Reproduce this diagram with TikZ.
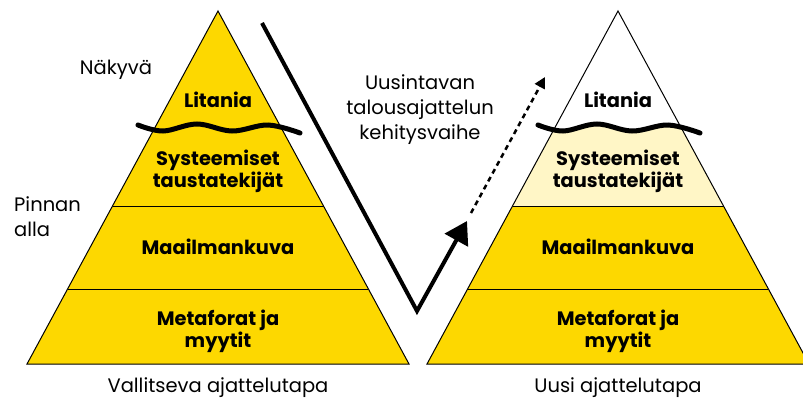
\documentclass[tikz,border=0pt]{standalone}
\usepackage{fontspec}
\setmainfont{Poppins}
\usetikzlibrary{arrows.meta}
\definecolor{gold}{HTML}{FDD800}
\definecolor{paleyellow}{HTML}{FFF6C6}
\begin{document}
\begin{tikzpicture}[x=1pt,y=-1pt,
  layer/.style={font=\bfseries\fontsize{19.4}{22}\selectfont, align=center, inner sep=0pt},
  plain/.style={font=\fontsize{19.5}{25}\selectfont, align=center, inner sep=0pt},
  wave/.style={line width=5pt, line cap=round},
  edge/.style={line width=1pt, line join=miter},
  bigarrow/.style={line width=4pt, -{Triangle[length=22pt,width=26pt]}},
  dotarrow/.style={line width=2.5pt, dash pattern=on 5pt off 4pt, -{Triangle[length=11pt,width=11pt]}}]
\useasboundingbox (0,0) rectangle (803,399);

% ---------- left pyramid ----------
\fill[gold] (218,11) -- (27,364) -- (409,364) -- cycle;
\draw[edge] (218,11) -- (27,364) -- (409,364) -- cycle;
\draw[edge] (112.5,206) -- (323.5,206);
\draw[edge] (67.6,289) -- (368.4,289);
\draw[wave] plot[smooth, tension=0.6] coordinates {(138,125) (163,131) (197,124) (232,131) (268,125) (300,133)};

% ---------- right pyramid ----------
\begin{scope}
  \clip (618,11) -- (427,364) -- (809,364) -- cycle;
  \fill[gold] (400,206) rectangle (820,370);
  \fill[paleyellow] (480,125) -- plot[smooth, tension=0.6] coordinates {(538,125) (563,131) (597,124) (632,131) (668,125) (700,133)} -- (760,133) -- (760,206) -- (480,206) -- cycle;
\end{scope}
\draw[edge] (618,11) -- (427,364) -- (809,364) -- cycle;
\draw[edge] (512.5,206) -- (723.5,206);
\draw[edge] (467.6,289) -- (768.4,289);
\draw[wave] plot[smooth, tension=0.6] coordinates {(538,125) (563,131) (597,124) (632,131) (668,125) (700,133)};

% ---------- layer labels ----------
\node[layer] (l1) at (218,100) {Litania};
\node[layer] (l2) at (218,171) {Systeemiset\\taustatekijät};
\node[layer] (l3) at (218,247) {Maailmankuva};
\node[layer] (l4) at (218,331) {Metaforat ja\\myytit};
\node[layer] (r1) at (618,100) {Litania};
\node[layer] (r2) at (618,171) {Systeemiset\\taustatekijät};
\node[layer] (r3) at (618,247) {Maailmankuva};
\node[layer] (r4) at (618,331) {Metaforat ja\\myytit};

% ---------- side texts ----------
\node[plain] (vis) at (116,70) {Näkyvä};
\node[plain, align=left, anchor=west] (under) at (14,217) {Pinnan\\alla};
\node[plain] (phase) at (420,110) {Uusintavan\\talousajattelun\\kehitysvaihe};
\node[plain] (cur) at (218,388) {Vallitseva ajattelutapa};
\node[plain] (new) at (618,388) {Uusi ajattelutapa};

% ---------- arrows ----------
\coordinate (s) at (262,23);
\coordinate (v) at (417,311);
\coordinate (t) at (467,221);
\coordinate (ds) at (471,213);
\coordinate (dt) at (545,77);
\draw[bigarrow] (s) -- (v) -- (t);
\draw[dotarrow] (ds) -- (dt);
\end{tikzpicture}
\end{document}
